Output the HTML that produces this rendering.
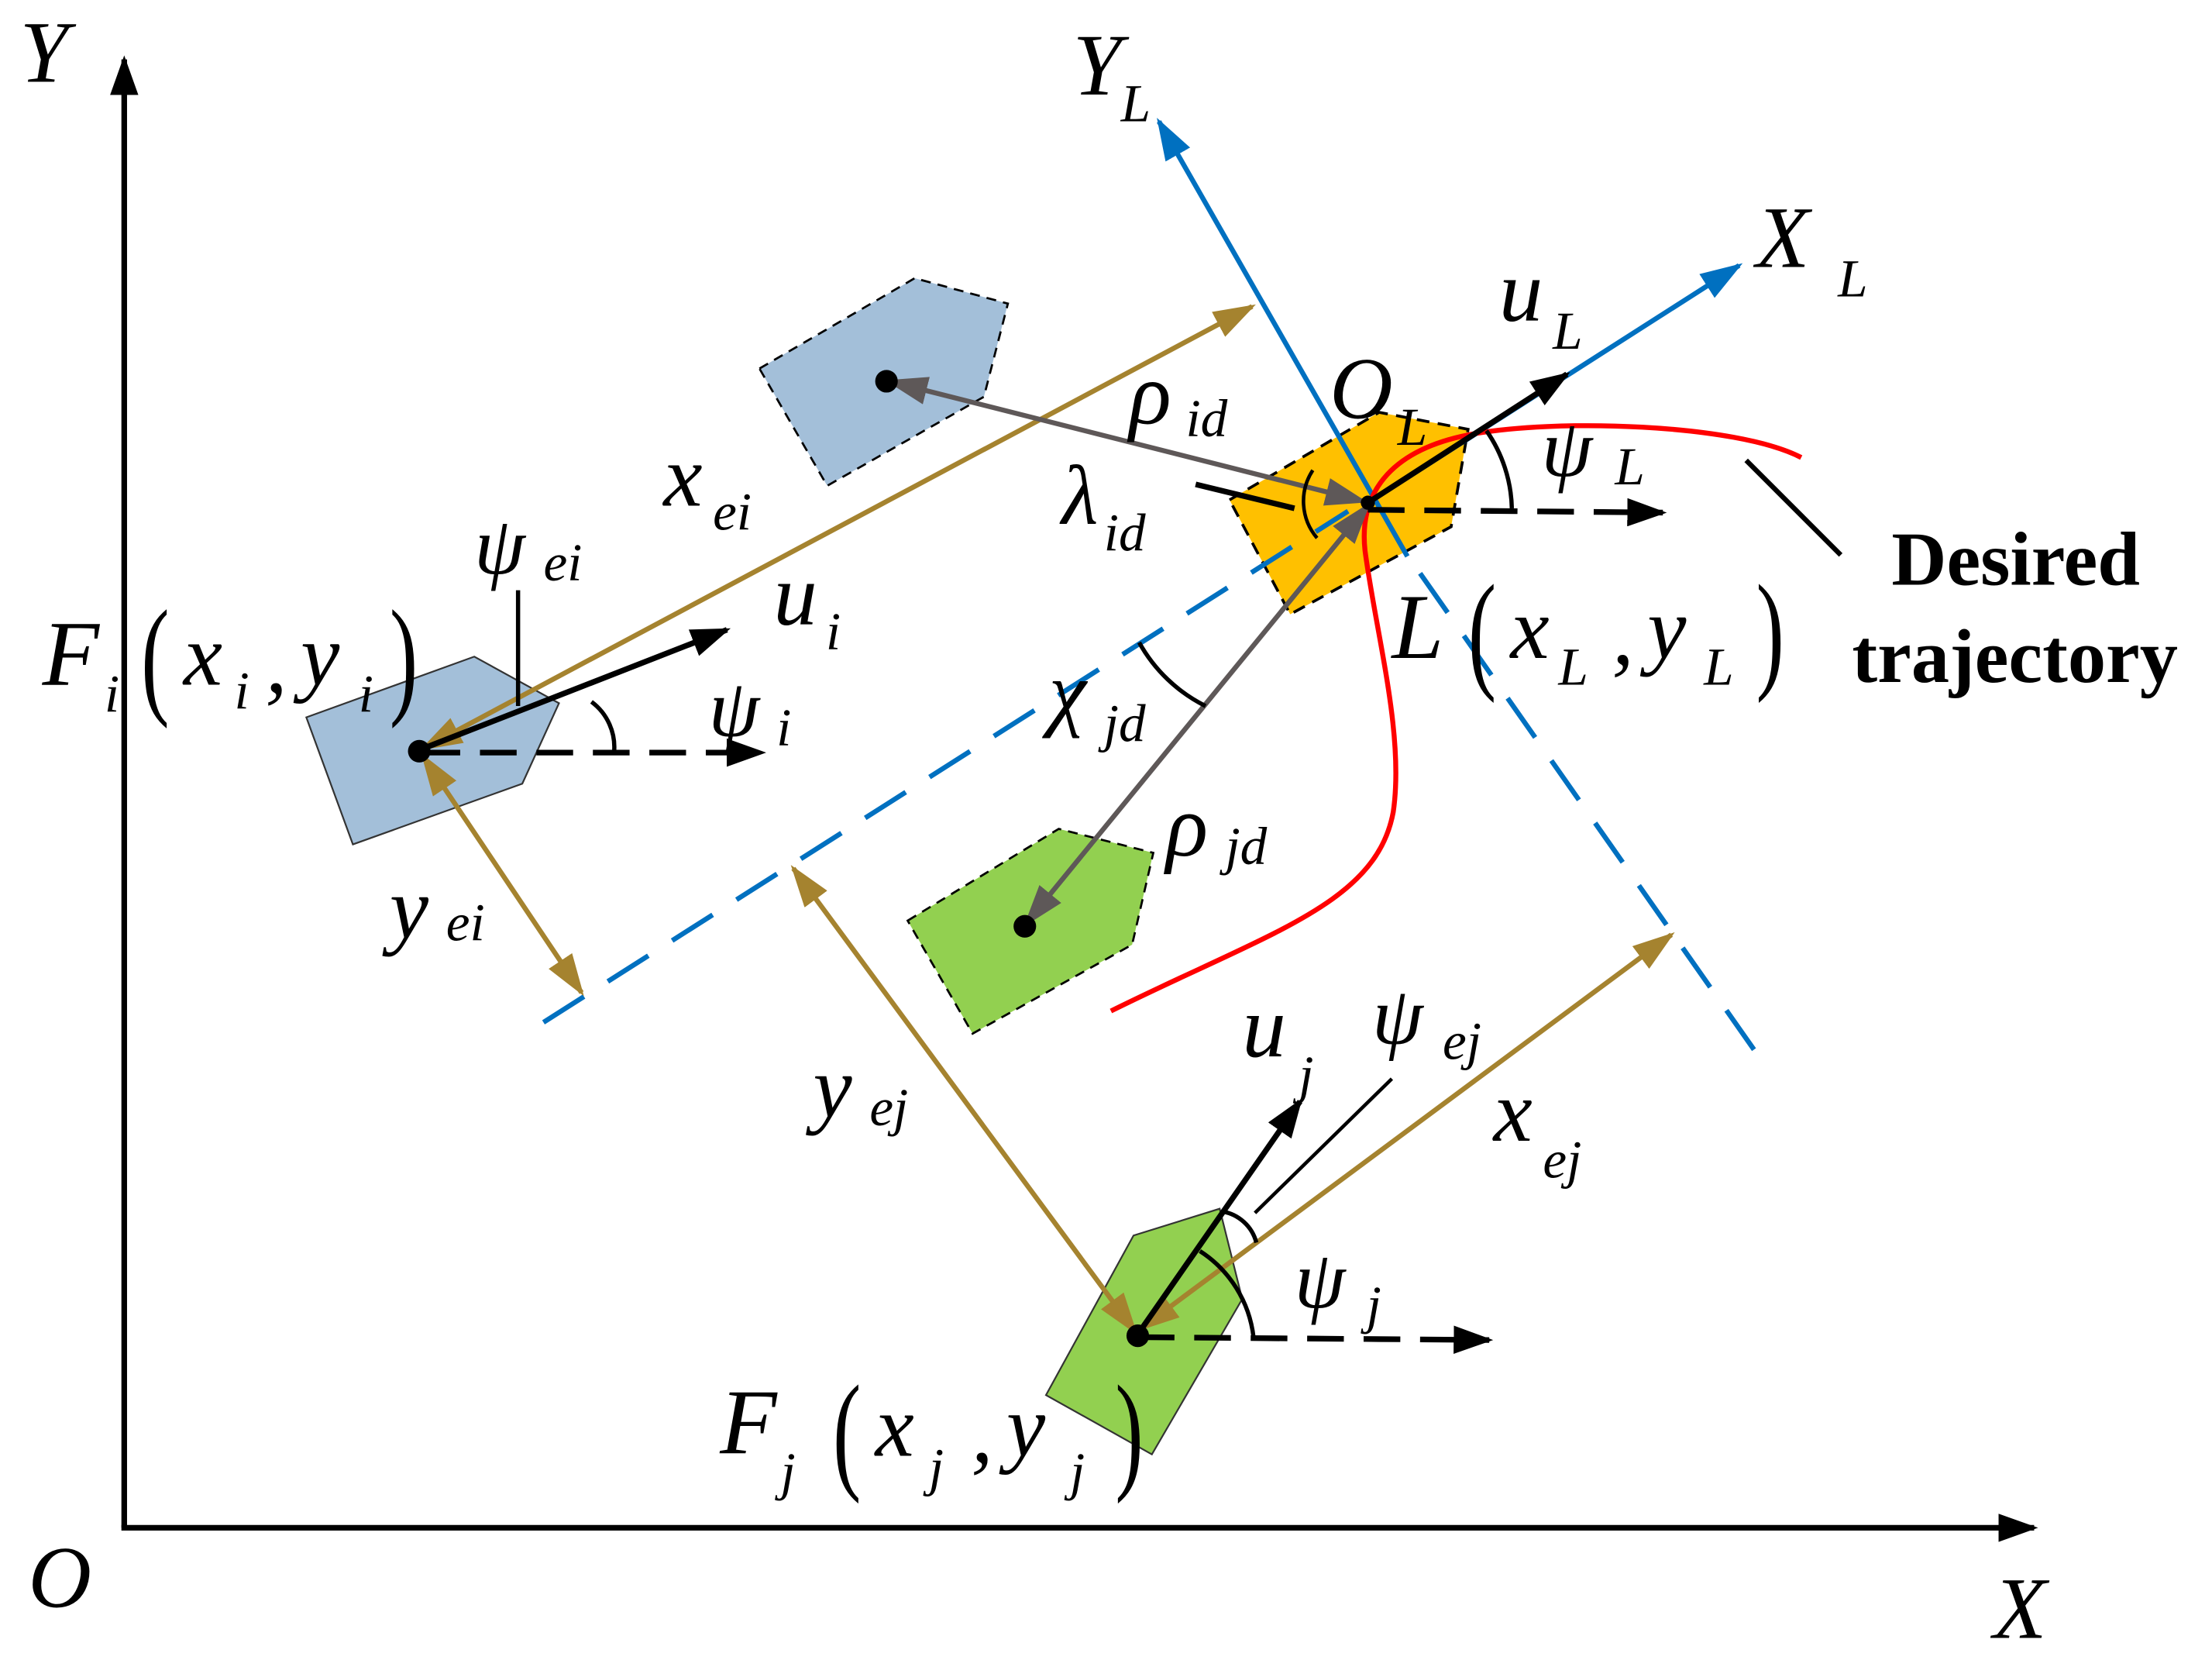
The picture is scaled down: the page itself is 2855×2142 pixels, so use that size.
<!DOCTYPE html>
<html><head><meta charset="utf-8"><style>
html,body{margin:0;padding:0;background:#fff;}
svg{display:block;}
text{font-family:"Liberation Serif","DejaVu Serif",serif;font-style:italic;fill:#000;}
.b{font-style:normal;font-weight:bold;}
.p{font-style:normal;}
</style></head><body>
<svg width="2855" height="2142" viewBox="0 0 1567 1175.6" xmlns="http://www.w3.org/2000/svg" font-family="Liberation Serif, serif">
<defs>
<marker id="akb" viewBox="0 0 10 10" refX="9" refY="5" markerWidth="28" markerHeight="20" markerUnits="userSpaceOnUse" orient="auto-start-reverse" preserveAspectRatio="none"><path d="M0,0L10,5L0,10z" fill="#000"/></marker>
<marker id="abr" viewBox="0 0 10 10" refX="9" refY="5" markerWidth="30" markerHeight="20" markerUnits="userSpaceOnUse" orient="auto-start-reverse" preserveAspectRatio="none"><path d="M0,0L10,5L0,10z" fill="#a5832f"/></marker>
<marker id="abl" viewBox="0 0 10 10" refX="9" refY="5" markerWidth="30" markerHeight="20" markerUnits="userSpaceOnUse" orient="auto-start-reverse" preserveAspectRatio="none"><path d="M0,0L10,5L0,10z" fill="#0070c0"/></marker>
<marker id="agr" viewBox="0 0 10 10" refX="9" refY="5" markerWidth="30" markerHeight="20" markerUnits="userSpaceOnUse" orient="auto-start-reverse" preserveAspectRatio="none"><path d="M0,0L10,5L0,10z" fill="#5e5858"/></marker>
</defs>

<line x1="88" y1="1082" x2="88" y2="42" stroke="#000" stroke-width="4" marker-end="url(#akb)"/>
<line x1="86" y1="1082" x2="1441" y2="1082" stroke="#000" stroke-width="4" marker-end="url(#akb)"/>

<polygon points="217,508 336,465 396,498 370,555 250,598" fill="#a3bfd9" stroke="#333" stroke-width="1.2"/>
<polygon points="538,261 648,197 714,215 697,281 586,344" fill="#a3bfd9" stroke="#000" stroke-width="1.5" stroke-dasharray="7,5"/>
<polygon points="871,354 977,292 1040,304 1028,373 914,435" fill="#ffc000" stroke="#000" stroke-width="2" stroke-dasharray="9,6"/>
<polygon points="643,652 750,587 817,604 802,669 689,732" fill="#92d050" stroke="#000" stroke-width="1.5" stroke-dasharray="7,5"/>
<polygon points="741,988 803,875 864,856 880,920 816,1030" fill="#92d050" stroke="#333" stroke-width="1.2"/>

<line x1="997" y1="394" x2="821" y2="86" stroke="#0070c0" stroke-width="3.5" marker-end="url(#abl)"/>
<line x1="969" y1="356" x2="1232" y2="188" stroke="#0070c0" stroke-width="3.5" marker-end="url(#abl)"/>
<line x1="385" y1="724" x2="955" y2="362" stroke="#0070c0" stroke-width="3.5" stroke-dasharray="34,20"/>
<line x1="1006" y1="406" x2="1250" y2="754" stroke="#0070c0" stroke-width="3.5" stroke-dasharray="34,20"/>

<path d="M1276,324 C1230,300 1100,296 1040,308 C990,318 962,345 967,390 C975,450 995,520 987,575 C975,640 900,660 787,716" fill="none" stroke="#ff0000" stroke-width="3.5"/>

<line x1="300" y1="530" x2="887" y2="217" stroke="#a5832f" stroke-width="3.5" marker-start="url(#abr)" marker-end="url(#abr)"/>
<line x1="300" y1="536" x2="412" y2="703" stroke="#a5832f" stroke-width="3.5" marker-start="url(#abr)" marker-end="url(#abr)"/>
<line x1="562" y1="615" x2="804" y2="943" stroke="#a5832f" stroke-width="3.5" marker-start="url(#abr)" marker-end="url(#abr)"/>
<line x1="808" y1="941" x2="1184" y2="662" stroke="#a5832f" stroke-width="3.5" marker-start="url(#abr)" marker-end="url(#abr)"/>

<line x1="630" y1="270" x2="966" y2="355" stroke="#5e5858" stroke-width="3.5" marker-start="url(#agr)" marker-end="url(#agr)"/>
<line x1="969" y1="358" x2="727" y2="654" stroke="#5e5858" stroke-width="3.5" marker-start="url(#agr)" marker-end="url(#agr)"/>

<line x1="300" y1="530" x2="515" y2="446" stroke="#000" stroke-width="4" marker-end="url(#akb)"/>
<line x1="300" y1="533" x2="540" y2="533" stroke="#000" stroke-width="4" stroke-dasharray="26,14" marker-end="url(#akb)"/>
<path d="M419,497 A40,40 0 0 1 435,533" fill="none" stroke="#000" stroke-width="3"/>
<line x1="367" y1="418" x2="367" y2="500" stroke="#000" stroke-width="3"/>

<line x1="969" y1="356" x2="1110" y2="265" stroke="#000" stroke-width="4" marker-end="url(#akb)"/>
<line x1="969" y1="361" x2="1178" y2="363" stroke="#000" stroke-width="4" stroke-dasharray="26,14" marker-end="url(#akb)"/>
<path d="M1053,305 A100,100 0 0 1 1071,360" fill="none" stroke="#000" stroke-width="3"/>
<line x1="847" y1="343" x2="917" y2="360" stroke="#000" stroke-width="4"/>
<path d="M930,333 A40,40 0 0 0 933,381" fill="none" stroke="#000" stroke-width="2.5"/>
<path d="M807,455 A110,110 0 0 0 854,500" fill="none" stroke="#000" stroke-width="3"/>

<line x1="806" y1="945" x2="921" y2="780" stroke="#000" stroke-width="4" marker-end="url(#akb)"/>
<line x1="806" y1="947" x2="1055" y2="949" stroke="#000" stroke-width="4" stroke-dasharray="26,14" marker-end="url(#akb)"/>
<line x1="889" y1="859" x2="986" y2="764" stroke="#000" stroke-width="2.5"/>
<path d="M866,858 A30,30 0 0 1 890,880" fill="none" stroke="#000" stroke-width="3"/>
<path d="M850,886 A84,84 0 0 1 888,947" fill="none" stroke="#000" stroke-width="3"/>
<line x1="1237" y1="326" x2="1304" y2="393" stroke="#000" stroke-width="3.5"/>

<circle cx="297" cy="532" r="8" fill="#000"/>
<circle cx="628" cy="270" r="8" fill="#000"/>
<circle cx="969" cy="356" r="5" fill="#000"/>
<circle cx="726" cy="656" r="8" fill="#000"/>
<circle cx="806" cy="946" r="8" fill="#000"/>

<text x="14" y="58" font-size="62">Y</text>
<text x="20" y="1138" font-size="62">O</text>
<text x="1412" y="1160" font-size="62">X</text>

<text x="760" y="67" font-size="62">Y</text><text x="794" y="86" font-size="38">L</text>
<text x="1244" y="189" font-size="62">X</text><text x="1302" y="210" font-size="38">L</text>
<text x="1062" y="227" font-size="62">u</text><text x="1100" y="247" font-size="38">L</text>
<text x="942" y="296" font-size="62">O</text><text x="990" y="315" font-size="38">L</text>
<text x="1092" y="337" font-size="58">ψ</text><text x="1144" y="343" font-size="38">L</text>
<text x="800" y="300" font-size="62">ρ</text><text x="840" y="309" font-size="38">id</text>
<text x="752" y="371" font-size="60">λ</text><text x="782" y="390" font-size="38">id</text>
<text x="743" y="510" font-size="60">χ</text><text x="782" y="525" font-size="38">jd</text>
<text x="826" y="606" font-size="62">ρ</text><text x="868" y="612" font-size="38">jd</text>

<text x="470" y="358" font-size="62">x</text><text x="505" y="375" font-size="38">ei</text>
<text x="336" y="406" font-size="58">ψ</text><text x="385" y="411" font-size="38">ei</text>
<text x="548" y="442" font-size="62">u</text><text x="585" y="460" font-size="38">i</text>
<text x="502" y="521" font-size="58">ψ</text><text x="550" y="528" font-size="38">i</text>
<text x="276" y="664" font-size="62">y</text><text x="316" y="666" font-size="38">ei</text>
<text x="576" y="791" font-size="62">y</text><text x="616" y="797" font-size="38">ej</text>
<text x="880" y="748" font-size="62">u</text><text x="920" y="774" font-size="38">j</text>
<text x="972" y="739" font-size="58">ψ</text><text x="1022" y="750" font-size="38">ej</text>
<text x="1058" y="808" font-size="62">x</text><text x="1093" y="834" font-size="38">ej</text>
<text x="917" y="926" font-size="58">ψ</text><text x="968" y="937" font-size="38">j</text>

<text x="30" y="485" font-size="66">F</text><text x="74" y="504" font-size="38">i</text>
<text class="p" font-size="60" transform="translate(100,496) scale(1,1.55)">(</text>
<text x="130" y="485" font-size="62">x</text><text x="166" y="502" font-size="38">i</text>
<text x="188" y="490" font-size="62">,</text>
<text x="213" y="485" font-size="62">y</text><text x="254" y="504" font-size="38">i</text>
<text class="p" font-size="60" transform="translate(276,496) scale(1,1.55)">)</text>

<text x="986" y="466" font-size="66">L</text>
<text class="p" font-size="60" transform="translate(1040,478) scale(1,1.55)">(</text>
<text x="1070" y="466" font-size="62">x</text><text x="1104" y="485" font-size="38">L</text>
<text x="1142" y="470" font-size="62">,</text>
<text x="1167" y="466" font-size="62">y</text><text x="1207" y="485" font-size="38">L</text>
<text class="p" font-size="60" transform="translate(1244,478) scale(1,1.55)">)</text>

<text x="510" y="1029" font-size="66">F</text><text x="553" y="1055" font-size="38">j</text>
<text class="p" font-size="60" transform="translate(590,1045) scale(1,1.55)">(</text>
<text x="620" y="1031" font-size="62">x</text><text x="658" y="1052" font-size="38">j</text>
<text x="688" y="1035" font-size="62">,</text>
<text x="713" y="1031" font-size="62">y</text><text x="758" y="1055" font-size="38">j</text>
<text class="p" font-size="60" transform="translate(790,1045) scale(1,1.55)">)</text>

<text class="b" x="1340" y="414" font-size="54">Desired</text>
<text class="b" x="1312" y="483" font-size="54">trajectory</text>
</svg>
</body></html>
